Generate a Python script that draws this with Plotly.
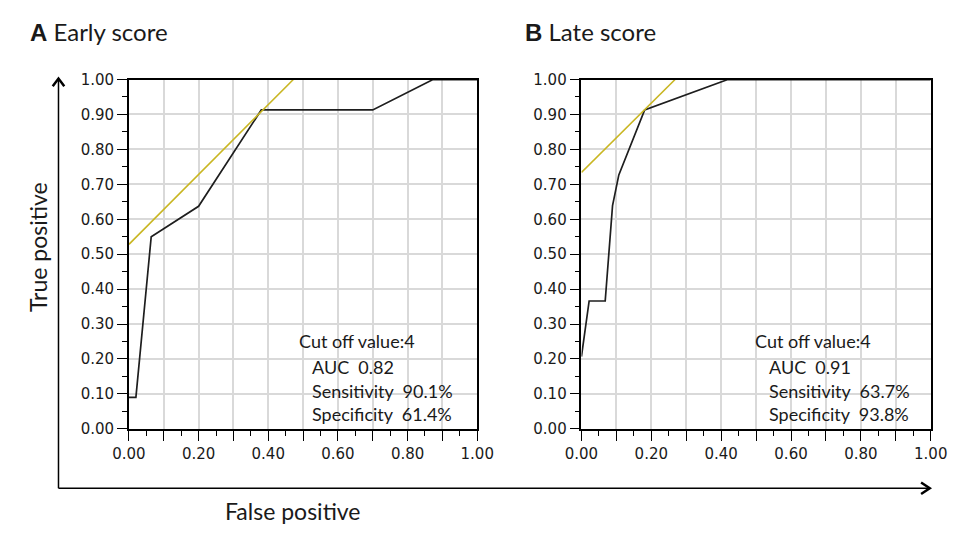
import plotly.graph_objects as go

# ---- data ----
early_fpr = [0.0, 0.02, 0.064, 0.20, 0.38, 0.70, 0.873, 1.0]
early_tpr = [0.09, 0.09, 0.55, 0.637, 0.913, 0.913, 1.0, 1.0]
early_tan_x = [0.0, 0.472]
early_tan_y = [0.528, 1.0]

late_fpr = [0.0, 0.022, 0.068, 0.089, 0.107, 0.181, 0.419, 1.0]
late_tpr = [0.207, 0.366, 0.366, 0.639, 0.727, 0.913, 1.0, 1.0]
late_tan_x = [0.0, 0.268]
late_tan_y = [0.734, 1.0]

early_stats = ["Cut off value:4", "AUC  0.82", "Sensitivity  90.1%", "Specificity  61.4%"]
late_stats = ["Cut off value:4", "AUC  0.91", "Sensitivity  63.7%", "Specificity  93.8%"]

x_ticks = [i / 10 for i in range(11)]
x_labels = ["%.2f" % v if i % 2 == 0 else "" for i, v in enumerate(x_ticks)]
y_ticks = [i / 10 for i in range(11)]
y_labels = ["%.2f" % v for v in y_ticks]

W, H = 968, 533
def px(x):
    return x / W
def py(y):
    return (H - y) / H

CURVE = "#1e1e1e"
TAN = "#c9b622"
GRID = "#d9d9d9"
TXT = "#1a1a1a"
TEXT_FONT = "Lato"
TICK_FONT = "DejaVu Sans"

fig = go.Figure()
fig.add_trace(go.Scatter(x=early_fpr, y=early_tpr, mode="lines",
                         line=dict(color=CURVE, width=1.7), xaxis="x", yaxis="y", showlegend=False))
fig.add_trace(go.Scatter(x=early_tan_x, y=early_tan_y, mode="lines",
                         line=dict(color=TAN, width=1.6), xaxis="x", yaxis="y", showlegend=False))
fig.add_trace(go.Scatter(x=late_fpr, y=late_tpr, mode="lines",
                         line=dict(color=CURVE, width=1.7), xaxis="x2", yaxis="y2", showlegend=False))
fig.add_trace(go.Scatter(x=late_tan_x, y=late_tan_y, mode="lines",
                         line=dict(color=TAN, width=1.6), xaxis="x2", yaxis="y2", showlegend=False))

ydom = [py(434.5), py(73)]
def xaxis(dom, anchor):
    return dict(domain=dom, anchor=anchor, range=[0, 1], tickmode="array", tickvals=x_ticks,
                ticktext=x_labels, ticks="outside", ticklen=10, tickwidth=1.3, tickcolor="black",
                showline=True, linecolor="black", linewidth=1.5, mirror=True,
                showgrid=True, gridcolor=GRID, gridwidth=2, zeroline=False,
                tickfont=dict(family=TICK_FONT, size=15, color=TXT), fixedrange=True,
                minor=dict(dtick=0.05, tick0=0, ticks="outside", ticklen=5, tickwidth=1.3,
                           tickcolor="black", showgrid=False))
def yaxis(anchor):
    return dict(domain=ydom, anchor=anchor, range=[0, 1], tickmode="array", tickvals=y_ticks,
                ticktext=y_labels, ticks="outside", ticklen=10, tickwidth=1.3, tickcolor="black",
                showline=True, linecolor="black", linewidth=1.5, mirror=True,
                showgrid=True, gridcolor=GRID, gridwidth=2, zeroline=False,
                tickfont=dict(family=TICK_FONT, size=15, color=TXT), fixedrange=True,
                minor=dict(dtick=0.05, tick0=0, ticks="outside", ticklen=5, tickwidth=1.3,
                           tickcolor="black", showgrid=False))

fig.update_layout(
    width=W, height=H, margin=dict(l=0, r=0, t=0, b=0),
    paper_bgcolor="white", plot_bgcolor="white",
    xaxis=xaxis([px(116), px(477)], "y"),
    yaxis=yaxis("x"),
    xaxis2=xaxis([px(585), px(947)], "y2"),
    yaxis2=yaxis("x2"),
)

ann = []
# panel titles
ann.append(dict(x=px(11), y=py(23), xref="paper", yref="paper", xanchor="left", yanchor="middle",
                showarrow=False,
                text="<span style='font-family:Liberation Sans'><b>A</b></span> Early score",
                font=dict(family=TEXT_FONT, size=24, color=TXT)))
ann.append(dict(x=px(524), y=py(23), xref="paper", yref="paper", xanchor="left", yanchor="middle",
                showarrow=False,
                text="<span style='font-family:Liberation Sans'><b>B</b></span> Late score",
                font=dict(family=TEXT_FONT, size=24, color=TXT)))
# outer axis titles
ann.append(dict(x=px(21), y=py(246), xref="paper", yref="paper", xanchor="center", yanchor="middle",
                showarrow=False, text="True positive", textangle=-90,
                font=dict(family=TEXT_FONT, size=23, color=TXT)))
ann.append(dict(x=px(286), y=py(520), xref="paper", yref="paper", xanchor="center", yanchor="middle",
                showarrow=False, text="False positive",
                font=dict(family=TEXT_FONT, size=23, color=TXT)))

# statistics text
line_y = [344, 370, 395, 419]
for stats, x0, x1 in [(early_stats, 290, 304), (late_stats, 763, 777)]:
    for i, t in enumerate(stats):
        ann.append(dict(x=px(x0 if i == 0 else x1), y=py(line_y[i]), xref="paper", yref="paper",
                        xanchor="left", yanchor="middle", showarrow=False, text=t,
                        font=dict(family=TEXT_FONT, size=18, color=TXT)))
fig.update_layout(annotations=ann)

# outer arrows
shapes = [
    dict(type="line", xref="paper", yref="paper", x0=px(43), y0=py(496), x1=px(43), y1=py(73),
         line=dict(color="black", width=1.5)),
    dict(type="line", xref="paper", yref="paper", x0=px(43), y0=py(496), x1=px(945), y1=py(496),
         line=dict(color="black", width=1.5)),
    dict(type="path", xref="paper", yref="paper",
         path="M %f,%f L %f,%f L %f,%f" % (px(37), py(80), px(43), py(72), px(49), py(80)),
         line=dict(color="black", width=2.5)),
    dict(type="path", xref="paper", yref="paper",
         path="M %f,%f L %f,%f L %f,%f" % (px(937), py(490), px(946), py(496), px(937), py(502)),
         line=dict(color="black", width=2.5)),
]
fig.update_layout(shapes=shapes)

fig.write_html("out.html")
